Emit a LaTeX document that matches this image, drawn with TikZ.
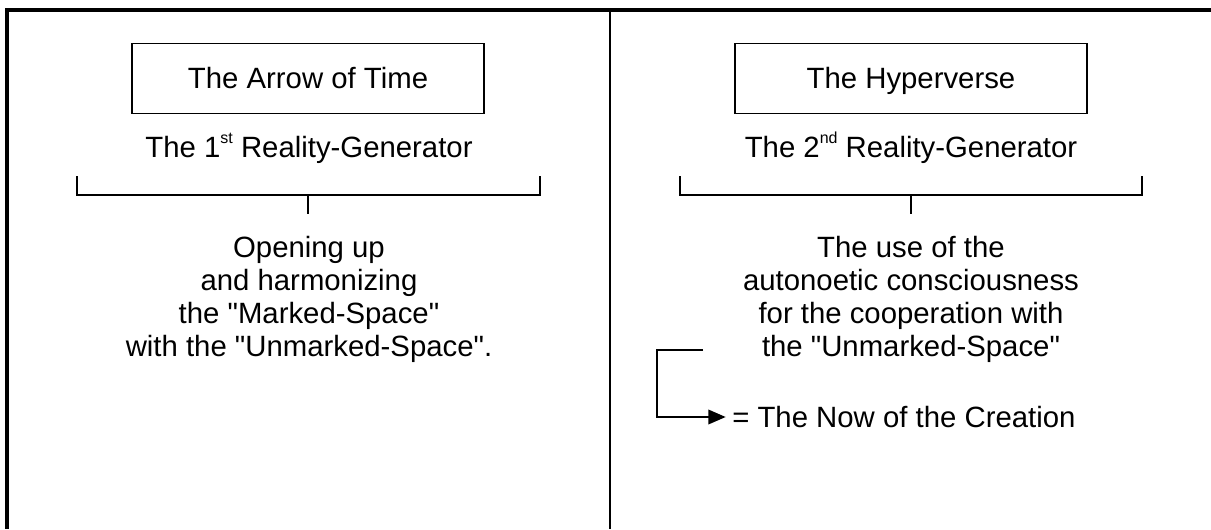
\documentclass[tikz,border=0pt]{standalone}
\usepackage{fontspec}
\setmainfont{Liberation Sans}
\usetikzlibrary{arrows.meta}

\tikzset{
  titlebox/.style={draw, line width=0.9pt, minimum width=264pt, minimum height=52pt, inner sep=0pt, text height=15pt, text depth=0pt},
  plaintext/.style={inner sep=0.75pt, anchor=base},
  bracketline/.style={line width=0.9pt},
}
\newcommand{\sups}[1]{\raisebox{0.45em}{\fontsize{12}{12}\selectfont #1}}

\begin{document}
\begin{tikzpicture}[x=0.75pt,y=0.75pt,yscale=-1,xscale=1,font=\fontsize{22}{24}\selectfont]
\useasboundingbox (0,0) rectangle (1211,529);

%Frame lines
\draw [line width=3pt] (5,10) -- (1211,10) ;
\draw [line width=3pt] (7,8.5) -- (7,529) ;
\draw [line width=1.5pt] (610,10) -- (610,529) ;

% Text Node
\node (arrow) [titlebox] at (308,78.5) {The Arrow of Time};
% Text Node
\node (hyper) [titlebox] at (911,78.5) {The Hyperverse};
% Text Node
\node (gen1) [plaintext] at (309,157) {The 1\sups{st} Reality-Generator};
% Text Node
\node (gen2) [plaintext] at (911,157) {The 2\sups{nd} Reality-Generator};

%Brackets
\coordinate (b1l) at (77,176);
\coordinate (b1r) at (540,176);
\coordinate (b1m) at (308,195);
\coordinate (b1t) at (308,214);
\draw [bracketline] (b1l) |- (b1m) -| (b1r) ;
\draw [bracketline] (b1m) -- (b1t) ;
\coordinate (b2l) at (680,176);
\coordinate (b2r) at (1142,176);
\coordinate (b2m) at (911,195);
\coordinate (b2t) at (911,214);
\draw [bracketline] (b2l) |- (b2m) -| (b2r) ;
\draw [bracketline] (b2m) -- (b2t) ;

% Text Node
\node (open1) [plaintext] at (309,257) {Opening up};
\node (open2) [plaintext] at (309,290) {and harmonizing};
\node (open3) [plaintext] at (309,323) {the \textquotedbl Marked-Space\textquotedbl};
\node (open4) [plaintext] at (309,356) {with the \textquotedbl Unmarked-Space\textquotedbl.};
% Text Node
\node (use1) [plaintext] at (911,257) {The use of the};
\node (use2) [plaintext] at (911,290) {autonoetic consciousness};
\node (use3) [plaintext] at (911,323) {for the cooperation with};
\node (use4) [plaintext] at (911,356) {the \textquotedbl Unmarked-Space\textquotedbl};
% Text Node
\node (now) [plaintext, anchor=west] at (731,417) {= The Now of the Creation};

%Elbow arrow
\coordinate (ebeg) at (703,350);
\draw [line width=1.1pt, shorten >=4pt, -{Triangle[length=13pt,width=11pt]}] (ebeg) -- ++(-46,0) |- (now.west) ;

\end{tikzpicture}
\end{document}
